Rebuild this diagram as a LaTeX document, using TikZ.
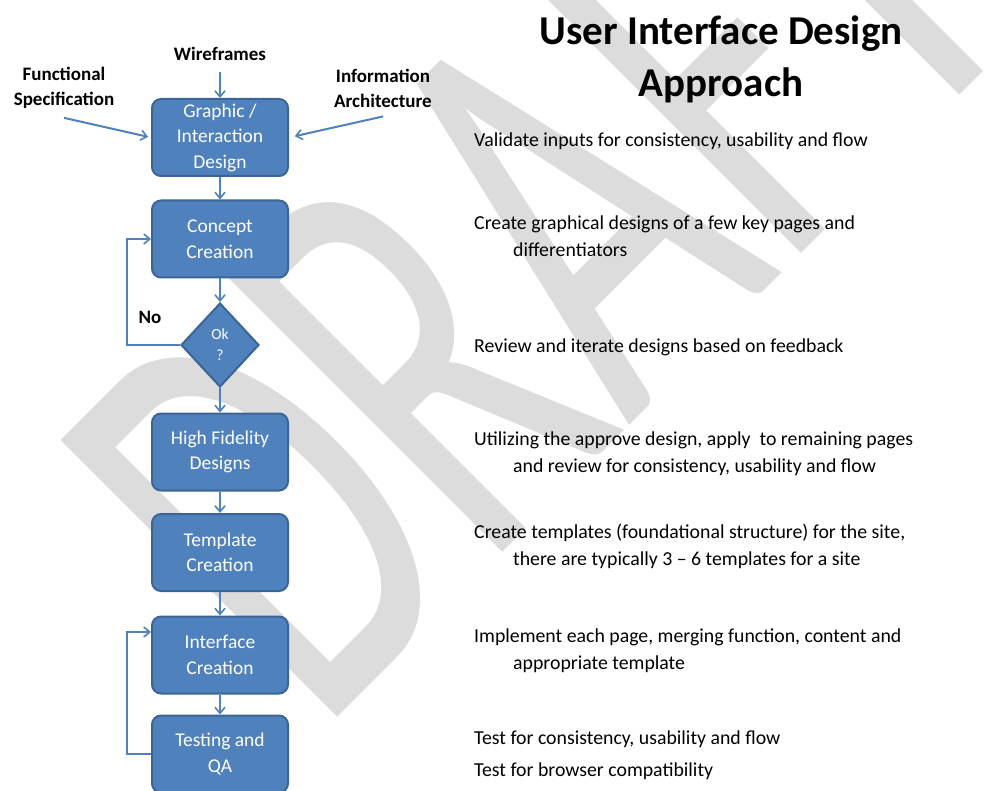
\documentclass[tikz,border=0pt]{standalone}
\usepackage{fontspec}
\usepackage{graphicx}
\setmainfont{Carlito}
\usetikzlibrary{shapes.geometric,arrows.meta}
\definecolor{boxfill}{HTML}{4F81BD}
\definecolor{boxline}{HTML}{3A6596}
\definecolor{arrowc}{HTML}{4F81BD}
\definecolor{wm}{RGB}{220,220,220}
\begin{document}
\begin{tikzpicture}[x=1pt,y=-1pt,
  stepbox/.style={draw=boxline, fill=boxfill, line width=2pt, rounded corners=9pt,
    minimum width=136pt, minimum height=77pt, inner sep=0pt, text=white, align=center,
    font=\fontsize{19.5}{25.5}\selectfont},
  okdiamond/.style={diamond, draw=boxline, fill=boxfill, line width=2pt,
    minimum width=78pt, minimum height=84pt, inner sep=0pt, text=white, align=center,
    font=\fontsize{15.5}{21}\selectfont},
  arr/.style={draw=arrowc, line width=2pt, -{Straight Barb[length=6pt,width=10pt,line width=1.6pt]}},
  lab/.style={inner sep=0pt, align=center, font=\bfseries\fontsize{19}{25}\selectfont},
  desc/.style={anchor=base west, inner sep=0pt, font=\fontsize{19.8}{24}\selectfont},
  ttl/.style={anchor=base, inner sep=0pt, font=\bfseries\fontsize{41}{50}\selectfont}]
\useasboundingbox (0,0) rectangle (1000,791);
\fill[white] (0,0) rectangle (1000,791);
% watermark
\begin{scope}
\clip (0,0) rectangle (1000,791);
\node[rotate=45, anchor=base, text=wm, inner sep=0pt] (wmark) at (678,377)
  {\fontsize{610}{610}\selectfont\scalebox{0.62}[1]{DRAFT}};
\end{scope}
% boxes
\node[stepbox] (b1) at (220,137.5) {Graphic /\\Interaction\\Design};
\node[stepbox] (b2) at (220,239) {Concept\\Creation};
\node[okdiamond] (d) at (220,345) {Ok\\?};
\node[stepbox] (b3) at (220,452) {High Fidelity\\Designs};
\node[stepbox] (b4) at (220,552.5) {Template\\Creation};
\node[stepbox] (b5) at (220,655) {Interface\\Creation};
\node[stepbox] (b6) at (220,754) {Testing and\\QA};
% input labels
\node[lab, anchor=base] (wf) at (220,61) {Wireframes};
\node[lab] (fs) at (64,88) {Functional\\Specification};
\node[lab] (ia) at (383,88) {Information\\Architecture};
\node[lab] (no) at (150,317) {No};
% connectors
\draw[arr] ([yshift=-11pt]wf.south) -- (b1.north);
\draw[arr, shorten >=3pt] ([yshift=-9pt]fs.south) -- (b1.west);
\draw[arr, shorten >=6pt] ([yshift=-9pt]ia.south) -- (b1.east);
\draw[arr] (b1.south) -- (b2.north);
\draw[arr] (b2.south) -- (d.north);
\draw[arr] (d.south) -- (b3.north);
\draw[arr] (b3.south) -- (b4.north);
\draw[arr] (b4.south) -- (b5.north);
\draw[arr] (b5.south) -- (b6.north);
\draw[arr] (d.west) -- ++(-53,0) |- (b2.west);
\draw[arr] (b6.west) -- ++(-24,0) |- ([yshift=23pt]b5.west);
% title
\node[ttl] (h1) at (721,45) {User Interface Design};
\node[ttl] (h2) at (721,97) {Approach};
% descriptions
\node[desc] (t1) at (474,147) {Validate inputs for consistency, usability and flow};
\node[desc] (t2) at (474,230) {Create graphical designs of a few key pages and};
\node[desc] (t2b) at (513,257) {differentiators};
\node[desc] (t3) at (474,352) {Review and iterate designs based on feedback};
\node[desc] (t4) at (474,445) {Utilizing the approve design, apply\ \ to remaining pages};
\node[desc] (t4b) at (513,472) {and review for consistency, usability and flow};
\node[desc] (t5) at (474,538) {Create templates (foundational structure) for the site,};
\node[desc] (t5b) at (513,565) {there are typically 3 -- 6 templates for a site};
\node[desc] (t6) at (474,642) {Implement each page, merging function, content and};
\node[desc] (t6b) at (513,669) {appropriate template};
\node[desc] (t7) at (474,744) {Test for consistency, usability and flow};
\node[desc] (t7b) at (474,776) {Test for browser compatibility};
\end{tikzpicture}
\end{document}
